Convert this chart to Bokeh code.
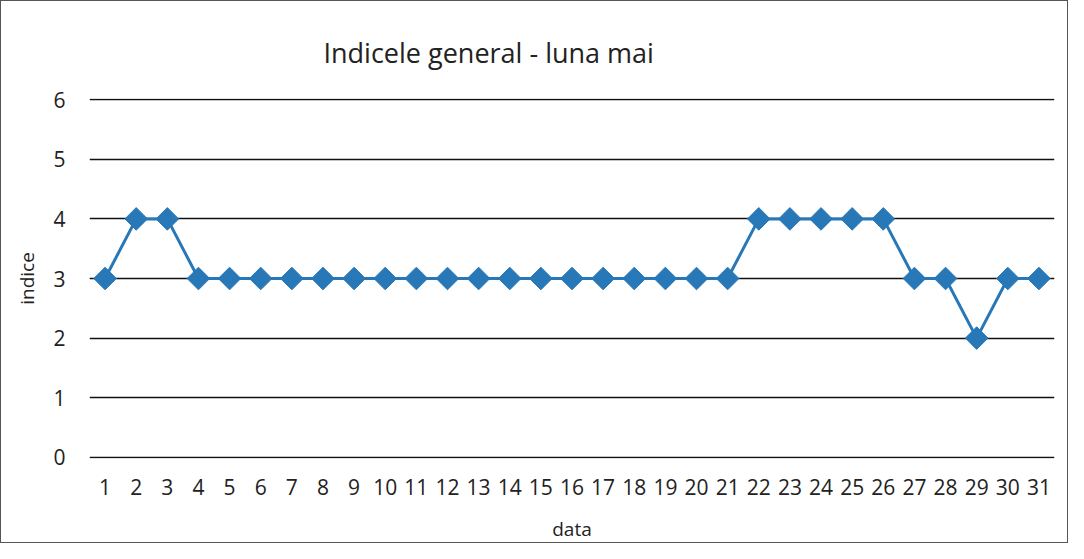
from bokeh.plotting import figure
from bokeh.models import FactorRange, Range1d, FixedTicker
from bokeh.embed import file_html
from bokeh.resources import INLINE
import math

days = [str(d) for d in range(1, 32)]
indice = [3, 4, 4, 3, 3, 3, 3, 3, 3, 3, 3, 3, 3, 3, 3, 3, 3, 3, 3, 3, 3,
          4, 4, 4, 4, 4, 3, 3, 2, 3, 3]
y_ticks = [0, 1, 2, 3, 4, 5, 6]
title = "Indicele general - luna mai"

FONT = "Open Sans"
BLUE = "#2878b8"

p = figure(width=1068, height=543, x_range=FactorRange(*days),
           y_range=Range1d(-0.02, 6.02), output_backend="svg",
           toolbar_location=None,
           min_border_left=88, min_border_right=15, min_border_top=97,
           min_border_bottom=80)
p.styles = {"border": "1px solid #555"}

p.title.text = title
p.title.text_font = FONT
p.title.text_font_size = "27px"
p.title.text_font_style = "normal"
p.title.text_color = "#222222"
p.title.align = "left"
p.title.offset = 234
p.title.standoff = 56

p.outline_line_color = None
p.xgrid.grid_line_color = None
p.ygrid.grid_line_color = "#111111"
p.ygrid.grid_line_width = 1.6
p.yaxis.ticker = FixedTicker(ticks=y_ticks)
p.x_range.range_padding = 0

for ax in (p.xaxis, p.yaxis):
    ax.axis_line_color = None
    ax.major_tick_line_color = None
    ax.minor_tick_line_color = None
    ax.major_label_text_font = FONT
    ax.major_label_text_font_size = "21px"
    ax.major_label_text_color = "#222222"
    ax.axis_label_text_font = FONT
    ax.axis_label_text_font_size = "19px"
    ax.axis_label_text_font_style = "normal"
    ax.axis_label_text_color = "#222222"

p.xaxis.axis_label = "data"
p.yaxis.axis_label = "indice"
p.xaxis.major_label_standoff = 14
p.yaxis.major_label_standoff = 18
p.xaxis.axis_label_standoff = 18
p.yaxis.axis_label_standoff = 10

p.line(days, indice, line_color=BLUE, line_width=3)
p.scatter(days, indice, marker="square", size=16, angle=math.pi / 4,
          fill_color=BLUE, line_color=BLUE)

open("out.html", "w").write(file_html(p, INLINE))
